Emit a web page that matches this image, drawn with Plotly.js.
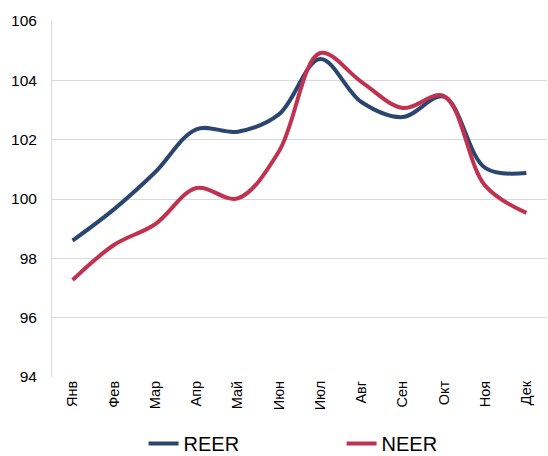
<!DOCTYPE html>
<html><head><meta charset="utf-8">
<script src="https://cdn.plot.ly/plotly-3.0.1.min.js"></script>
<style>html,body{margin:0;padding:0;background:#fff}#c{width:548px;height:456px}</style>
</head><body><div id="c"></div>
<script>
const months = ["Янв","Фев","Мар","Апр","Май","Июн","Июл","Авг","Сен","Окт","Ноя","Дек"];
const reer = [98.6, 99.65, 100.9, 102.35, 102.27, 102.85, 104.72, 103.27, 102.76, 103.45, 101.05, 100.88];
const neer = [97.27, 98.45, 99.15, 100.37, 100.02, 101.6, 104.92, 103.95, 103.07, 103.47, 100.45, 99.53];
const yTicks = [94, 96, 98, 100, 102, 104, 106];

const traces = [
  {x: months, y: reer, name: "REER", type: "scatter", mode: "lines",
   line: {color: "#2B466E", width: 4, shape: "spline", smoothing: 1}},
  {x: months, y: neer, name: "NEER", type: "scatter", mode: "lines",
   line: {color: "#C13251", width: 4, shape: "spline", smoothing: 1}}
];
const layout = {
  width: 548, height: 456,
  margin: {l: 52, r: 1, t: 21, b: 79},
  paper_bgcolor: "#fff", plot_bgcolor: "#fff",
  font: {family: "Liberation Sans, Arial, sans-serif", color: "#000"},
  showlegend: true,
  legend: {orientation: "h", x: 0.262, xanchor: "left", xref: "container",
           y: 0.07, yanchor: "top", yref: "container",
           font: {size: 20, color: "#000"}, entrywidth: 153, entrywidthmode: "pixels"},
  xaxis: {type: "category", range: [-0.5, 11.5], tickangle: -90, automargin: false,
          tickfont: {size: 14.5}, showgrid: false, zeroline: false,
          showline: false, ticks: ""},
  yaxis: {range: [94, 106], tickvals: yTicks, tickfont: {size: 15.5}, automargin: false,
          showgrid: true, gridcolor: "#d9d9d9", gridwidth: 1, ticklabelstandoff: 11,
          showline: true, linecolor: "#d9d9d9", linewidth: 1,
          zeroline: false, ticks: "", ticklen: 0}
};
Plotly.newPlot("c", traces, layout, {displayModeBar: false, staticPlot: true});
</script></body></html>
